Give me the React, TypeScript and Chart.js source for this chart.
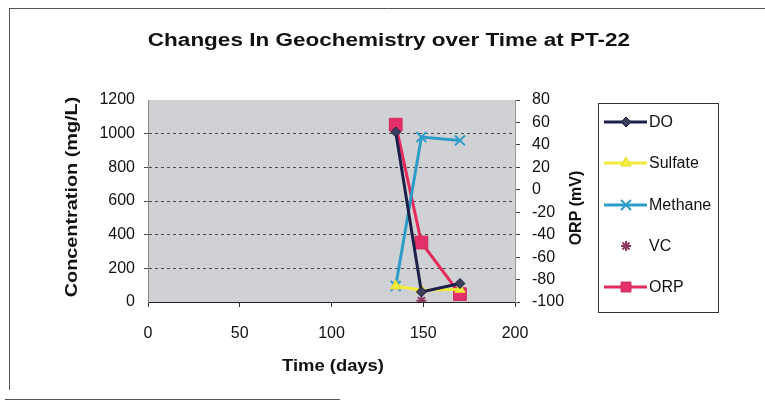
import React, { useEffect, useRef } from "react";
import { Chart, registerables } from "chart.js";
import { drawPoint } from "chart.js/helpers";

Chart.register(...registerables);

const titleText = "Changes In Geochemistry over Time at PT-22";
const xTitle = "Time (days)";
const yTitle = "Concentration (mg/L)";
const y1Title = "ORP (mV)";

const days = [135, 149, 170];
const doValues = [1010, 60, 110];
const sulfateValues = [95, 70, 75];
const methaneValues = [95, 980, 960];
const vcValues: (number | null)[] = [null, 8, null];
const orpValues = [58, -47, -93];

const seriesNames = ["DO", "Sulfate", "Methane", "VC", "ORP"];

const FONT = "'Liberation Sans', Arial, sans-serif";

function pts(vals: (number | null)[]) {
  return days.map((d, i) => ({ x: d, y: vals[i] }));
}

function stretchedText(ctx: any, text: string, x: number, y: number, rot: number, sx: number) {
  ctx.save();
  ctx.translate(x, y);
  ctx.rotate(rot);
  ctx.scale(sx, 1);
  ctx.fillText(text, 0, 0);
  ctx.restore();
}

const customDraw = {
  id: "customDraw",
  beforeDraw(chart: any) {
    const { ctx, chartArea } = chart;
    ctx.save();
    ctx.fillStyle = "#ffffff";
    ctx.fillRect(0, 0, chart.width, chart.height);
    ctx.fillStyle = "#d0d1d4";
    ctx.fillRect(chartArea.left, chartArea.top, chartArea.right - chartArea.left, chartArea.bottom - chartArea.top);
    ctx.restore();
  },
  afterDraw(chart: any) {
    const { ctx } = chart;
    ctx.save();
    // scan frame lines
    ctx.strokeStyle = "#555";
    ctx.lineWidth = 1;
    ctx.beginPath();
    ctx.moveTo(10, 8.5);
    ctx.lineTo(765, 8.5);
    ctx.moveTo(9.5, 8);
    ctx.lineTo(9.5, 390);
    ctx.moveTo(5, 399.5);
    ctx.lineTo(340, 399.5);
    ctx.stroke();

    ctx.fillStyle = "#111";
    ctx.textAlign = "center";
    ctx.textBaseline = "middle";
    // title
    ctx.font = `bold 18px ${FONT}`;
    stretchedText(ctx, titleText, 389, 41, 0, 1.25);

    // x title
    ctx.font = `bold 16px ${FONT}`;
    stretchedText(ctx, xTitle, 333, 367, 0, 1.15);

    // y title
    stretchedText(ctx, yTitle, 73, 197, -Math.PI / 2, 1.24);

    // y1 title
    stretchedText(ctx, y1Title, 577, 208, -Math.PI / 2, 1.0);

    // legend
    const lx = 598, ly = 103, lw = 120, lh = 209;
    ctx.strokeStyle = "#333";
    ctx.lineWidth = 1;
    ctx.strokeRect(lx + 0.5, ly + 0.5, lw, lh);
    const rowY = [122, 163, 205, 246, 287];
    chart.data.datasets.forEach((ds: any, i: number) => {
      const y = rowY[i];
      if (ds.showLine !== false) {
        ctx.strokeStyle = ds.borderColor;
        ctx.lineWidth = ds.borderWidth;
        ctx.beginPath();
        ctx.moveTo(604, y);
        ctx.lineTo(647, y);
        ctx.stroke();
      }
      ctx.fillStyle = ds.pointBackgroundColor;
      ctx.strokeStyle = ds.pointBorderColor;
      ctx.lineWidth = ds.pointBorderWidth;
      drawPoint(ctx, {
        pointStyle: ds.pointStyle,
        radius: Math.min(ds.pointRadius, 7),
        rotation: 0,
        borderWidth: ds.pointBorderWidth,
      } as any, 626, y);
      ctx.fillStyle = "#111";
      ctx.font = `16px ${FONT}`;
      ctx.textAlign = "left";
      ctx.textBaseline = "middle";
      ctx.fillText(seriesNames[i], 649, y + 1);
    });
    ctx.restore();
  },
};

export default function App() {
  const ref = useRef<HTMLCanvasElement | null>(null);
  useEffect(() => {
    if (!ref.current) return;
    const chart = new Chart(ref.current, {
      type: "line",
      data: {
        datasets: [
          {
            label: seriesNames[0],
            data: pts(doValues),
            borderColor: "#1c1f4a",
            backgroundColor: "#1c1f4a",
            borderWidth: 3,
            pointStyle: "rectRot",
            pointRadius: 5,
            pointBackgroundColor: "#3c3f5a",
            pointBorderColor: "#1c1f4a",
            pointBorderWidth: 1,
            yAxisID: "y",
          },
          {
            label: seriesNames[1],
            data: pts(sulfateValues),
            borderColor: "#f2ec3a",
            backgroundColor: "#f2ec3a",
            borderWidth: 3,
            pointStyle: "triangle",
            pointRadius: 6,
            pointBackgroundColor: "#f2ec3a",
            pointBorderColor: "#e8d830",
            pointBorderWidth: 1,
            yAxisID: "y",
          },
          {
            label: seriesNames[2],
            data: pts(methaneValues),
            borderColor: "#2e9cc8",
            backgroundColor: "#2e9cc8",
            borderWidth: 3,
            pointStyle: "crossRot",
            pointRadius: 7,
            pointBackgroundColor: "#2e9cc8",
            pointBorderColor: "#2e9cc8",
            pointBorderWidth: 2,
            yAxisID: "y",
          },
          {
            label: seriesNames[3],
            data: pts(vcValues),
            borderColor: "#8e3a60",
            backgroundColor: "#8e3a60",
            borderWidth: 2,
            showLine: false,
            pointStyle: "star",
            pointRadius: 5,
            pointBackgroundColor: "#8e3a60",
            pointBorderColor: "#8e3a60",
            pointBorderWidth: 2,
            yAxisID: "y",
          },
          {
            label: seriesNames[4],
            data: pts(orpValues),
            borderColor: "#e32c5c",
            backgroundColor: "#e32c5c",
            borderWidth: 3,
            pointStyle: "rect",
            pointRadius: 9,
            pointBackgroundColor: "#e3306a",
            pointBorderColor: "#d02858",
            pointBorderWidth: 1,
            yAxisID: "y1",
          },
        ] as any,
      },
      options: {
        responsive: false,
        animation: false,
        events: [],
        layout: { padding: { top: 100, left: 0, right: 175, bottom: 0 } },
        plugins: { legend: { display: false }, title: { display: false }, tooltip: { enabled: false } },
        scales: {
          x: {
            type: "linear",
            min: 0,
            max: 200,
            position: "bottom",
            afterFit: (s: any) => { s.height = 102; },
            ticks: { stepSize: 50, color: "#111", font: { family: FONT, size: 16 }, padding: 17, callback: (v: any) => String(v) },
            grid: { drawOnChartArea: false, tickLength: 5, color: "#333" },
            border: { display: true, color: "#222", width: 1 },
          },
          y: {
            type: "linear",
            min: 0,
            max: 1200,
            position: "left",
            afterFit: (s: any) => { s.width = 148; },
            ticks: { stepSize: 200, color: "#111", font: { family: FONT, size: 16 }, padding: 9, callback: (v: any) => String(v) },
            grid: {
              color: (c: any) => (c.tick && (c.tick.value === 0 || c.tick.value === 1200) ? "rgba(0,0,0,0)" : "#4a4a4a"),
              tickLength: 4,
            },
            border: { display: true, color: "#888", dash: [3, 3] },
          },
          y1: {
            type: "linear",
            min: -100,
            max: 80,
            position: "right",
            afterFit: (s: any) => { s.width = 75; },
            ticks: { stepSize: 20, color: "#111", font: { family: FONT, size: 16 }, padding: 12, callback: (v: any) => String(v) },
            grid: { drawOnChartArea: false, tickLength: 5, color: "#444" },
            border: { display: true, color: "#999" },
          },
        },
      } as any,
      plugins: [customDraw],
    });
    return () => chart.destroy();
  }, []);
  return (
    <div style={{ position: "fixed", left: 0, top: 0, width: 765, height: 404, background: "#fff" }}>
      <canvas ref={ref} width={765} height={404} />
    </div>
  );
}
